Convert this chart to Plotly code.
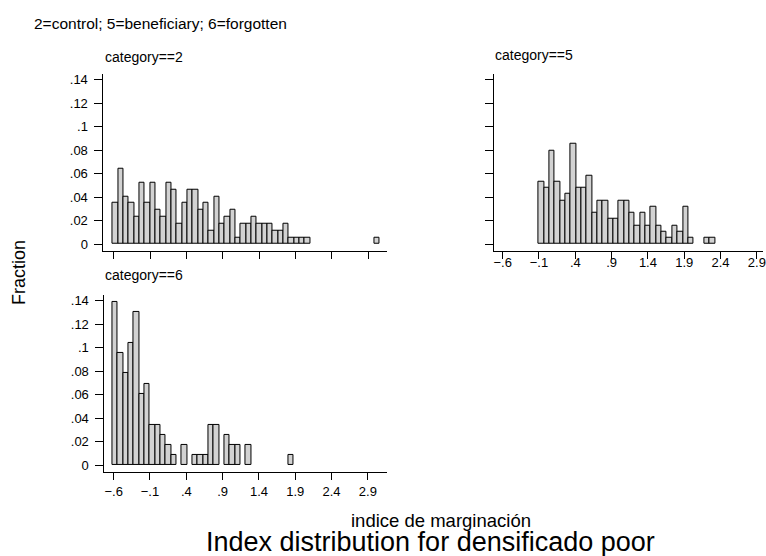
import plotly.graph_objects as go

# ---- data (histogram: common bins, fraction per bin) ----
bin_start = -0.617
bin_width = 0.0735
n_bins = 50

# category==2 (control): fraction per bin index
frac_cat2 = {0: .0349, 1: .0640, 2: .0407, 3: .0349, 4: .0233, 5: .0523, 6: .0349, 7: .0523,
             8: .0291, 9: .0233, 10: .0523, 11: .0465, 12: .0174, 13: .0349, 14: .0465,
             15: .0465, 16: .0291, 17: .0349, 18: .0116, 19: .0407, 20: .0174, 21: .0233,
             22: .0291, 23: .0058, 24: .0174, 25: .0174, 26: .0233, 27: .0174, 28: .0174,
             29: .0174, 30: .0116, 31: .0116, 32: .0174, 33: .0058, 34: .0058, 35: .0058,
             36: .0058, 49: .0058}
# category==5 (beneficiary)
frac_cat5 = {7: .0532, 8: .0479, 9: .0798, 10: .0532, 11: .0372, 12: .0426, 13: .0851,
             14: .0479, 15: .0479, 16: .0585, 17: .0266, 18: .0372, 19: .0372, 20: .0213,
             21: .0213, 22: .0372, 23: .0372, 24: .0266, 25: .0160, 26: .0266, 27: .0160,
             28: .0319, 29: .0160, 30: .0106, 31: .0053, 32: .0160, 33: .0106, 34: .0319,
             35: .0053, 38: .0053, 39: .0053}
# category==6 (forgotten)
frac_cat6 = {0: .1391, 1: .0957, 2: .0783, 3: .1043, 4: .1304, 5: .0609, 6: .0696, 7: .0348,
             8: .0348, 9: .0261, 10: .0174, 11: .0087, 13: .0174, 15: .0087, 16: .0087,
             17: .0087, 18: .0348, 19: .0348, 21: .0261, 22: .0174, 23: .0174, 25: .0174,
             33: .0087}

x_tickvals = [-0.6, -0.1, 0.4, 0.9, 1.4, 1.9, 2.4, 2.9]
x_ticktext = ["\u2212.6", "\u2212.1", ".4", ".9", "1.4", "1.9", "2.4", "2.9"]
y_tickvals = [0, 0.02, 0.04, 0.06, 0.08, 0.10, 0.12, 0.14]
y_ticktext = ["0", ".02", ".04", ".06", ".08", ".1", ".12", ".14"]

panel_titles = ["category==2", "category==5", "category==6"]
top_title = "2=control; 5=beneficiary; 6=forgotten"
x_title = "indice de marginaci\u00f3n"
y_title = "Fraction"
main_title = "Index distribution for densificado poor"

# ---- figure ----
W, H = 766, 556
FONT = "Liberation Sans, Arial, Helvetica, sans-serif"


def px_x(p):
    return p / W


def px_y(p):
    return 1 - p / H


fig = go.Figure()

panels = [
    # data, xaxis id, yaxis id, x px [left,right], y px [top,bottom], x range,
    # show x labels, show y labels, x label standoff
    (frac_cat2, "x", "y", (103, 388), (73, 251), (-0.744, 3.16), False, True, 0),
    (frac_cat5, "x2", "y2", (496, 766), (73, 251), (-0.714, 2.985), True, False, -8),
    (frac_cat6, "x3", "y3", (104, 388), (295, 473), (-0.727, 3.163), True, True, 0),
]

for data, xa, ya, (xl, xr), (yt, yb), xr_range, showx, showy, xstand in panels:
    idx = sorted(data.keys())
    xs = [bin_start + (k + 0.5) * bin_width for k in idx]
    ys = [data[k] for k in idx]
    fig.add_trace(go.Bar(
        x=xs, y=ys, width=bin_width, xaxis=xa, yaxis=ya,
        marker=dict(color="#d2d2d2", line=dict(color="black", width=1)),
        showlegend=False, hoverinfo="skip",
    ))
    xkey = "xaxis" if xa == "x" else "xaxis" + xa[1:]
    ykey = "yaxis" if ya == "y" else "yaxis" + ya[1:]
    fig.layout[xkey] = dict(
        domain=[px_x(xl), min(1.0, px_x(xr))], range=list(xr_range), anchor=ya,
        tickvals=x_tickvals, ticktext=x_ticktext, showticklabels=showx,
        ticks="outside", ticklen=7, tickwidth=1, tickcolor="black",
        showline=True, linecolor="black", linewidth=1, showgrid=False, zeroline=False,
        tickfont=dict(family=FONT, size=13, color="black"), fixedrange=True,
        ticklabeloverflow="allow", ticklabelstandoff=xstand,
    )
    fig.layout[ykey] = dict(
        domain=[px_y(yb), px_y(yt)], range=[-0.00594, 0.1451], anchor=xa,
        tickvals=y_tickvals, ticktext=y_ticktext, showticklabels=showy,
        ticks="outside", ticklen=8, tickwidth=1, tickcolor="black",
        showline=True, linecolor="black", linewidth=1, showgrid=False, zeroline=False,
        tickfont=dict(family=FONT, size=13, color="black"), ticklabelstandoff=4,
        fixedrange=True,
    )

annots = [
    dict(text=top_title, x=px_x(31), y=px_y(22.5), xanchor="left", yanchor="middle", size=15.5),
    dict(text=panel_titles[0], x=px_x(103), y=px_y(56.5), xanchor="left", yanchor="middle", size=14),
    dict(text=panel_titles[1], x=px_x(495), y=px_y(54.5), xanchor="left", yanchor="middle", size=14),
    dict(text=panel_titles[2], x=px_x(103), y=px_y(275), xanchor="left", yanchor="middle", size=14),
    dict(text=x_title, x=px_x(442), y=px_y(521), xanchor="center", yanchor="middle", size=18.5),
    dict(text=main_title, x=px_x(432), y=px_y(542.5), xanchor="center", yanchor="middle", size=27),
]
for a in annots:
    fig.add_annotation(text=a["text"], x=a["x"], y=a["y"], xref="paper", yref="paper",
                       xanchor=a["xanchor"], yanchor=a["yanchor"], showarrow=False,
                       font=dict(family=FONT, size=a["size"], color="black"))
fig.add_annotation(text=y_title, x=px_x(18), y=px_y(272), xref="paper", yref="paper",
                   xanchor="center", yanchor="middle", showarrow=False, textangle=-90,
                   font=dict(family=FONT, size=18, color="black"))

fig.update_layout(
    width=W, height=H, margin=dict(l=0, r=0, t=0, b=0),
    paper_bgcolor="white", plot_bgcolor="white", bargap=0,
    font=dict(family=FONT, color="black"),
)

fig.write_html(
    "out.html",
    config={"displayModeBar": False},
    post_script="document.body.style.margin='0';document.body.style.overflow='hidden';",
)
